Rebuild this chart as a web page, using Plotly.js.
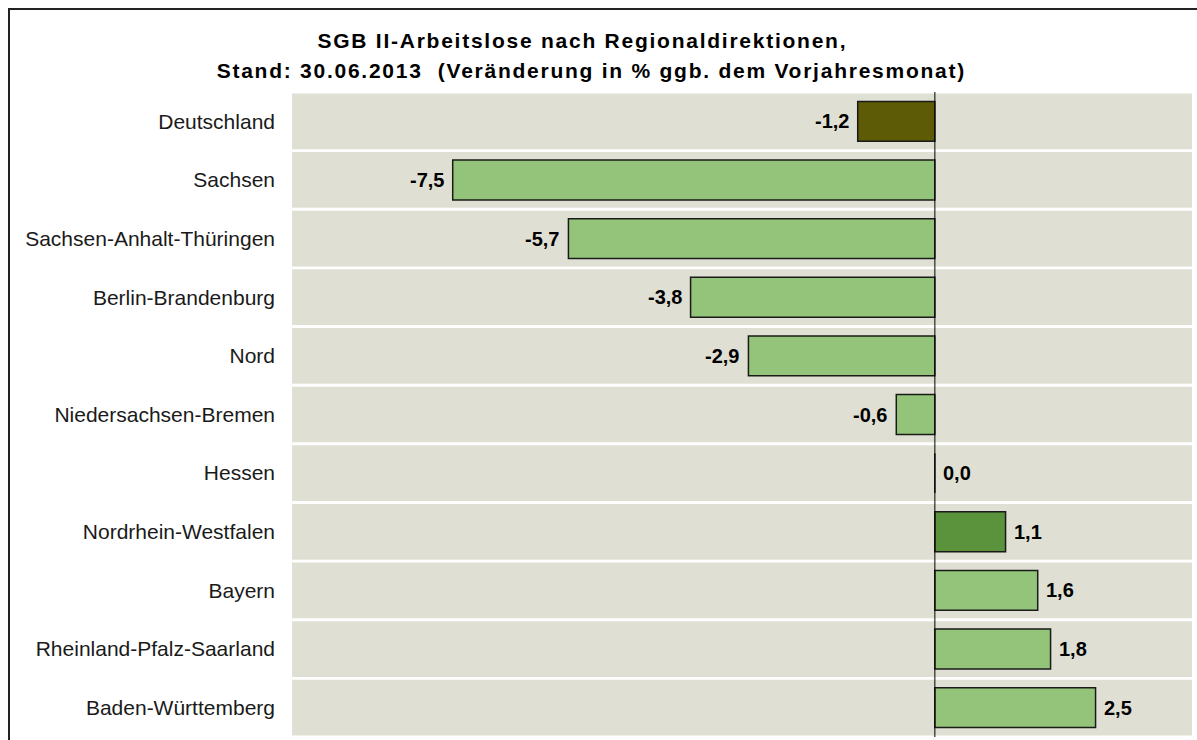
<!DOCTYPE html>
<html>
<head>
<meta charset="utf-8">
<script src="https://cdn.plot.ly/plotly-3.0.1.min.js"></script>
<style>
  html, body { margin: 0; padding: 0; background: #fff; }
  #chart { width: 1197px; height: 740px; }
  #frame { position: absolute; left: 8px; top: 8px; width: 1300px; height: 800px;
           border-left: 2px solid #222; border-top: 2px solid #222; pointer-events: none; }
  g.annotation[data-index="0"] text, g.annotation[data-index="1"] text { letter-spacing: 1.75px; }
</style>
</head>
<body>
<div id="chart"></div>
<div id="frame"></div>
<script>
const categories = [
  "Deutschland", "Sachsen", "Sachsen-Anhalt-Thüringen", "Berlin-Brandenburg", "Nord",
  "Niedersachsen-Bremen", "Hessen", "Nordrhein-Westfalen", "Bayern",
  "Rheinland-Pfalz-Saarland", "Baden-Württemberg"
];
const values = [-1.2, -7.5, -5.7, -3.8, -2.9, -0.6, 0.0, 1.1, 1.6, 1.8, 2.5];
const barColors = [
  "#5E5B06", "#93C47A", "#93C47A", "#93C47A", "#93C47A",
  "#93C47A", "#93C47A", "#5B923C", "#93C47A", "#93C47A", "#93C47A"
];
const xRange = [-10, 4];
const titleLines = [
  "SGB II-Arbeitslose nach Regionaldirektionen,",
  "Stand: 30.06.2013  (Veränderung in % ggb. dem Vorjahresmonat)"
];

const FONT = 'Liberation Sans, Arial, sans-serif';
const fmt = v => v.toFixed(1).replace('.', ',');

const bandTrace = {
  type: 'bar', orientation: 'h',
  y: categories,
  x: categories.map(() => xRange[1] - xRange[0]),
  base: categories.map(() => xRange[0]),
  width: 0.95,
  marker: { color: '#DFE0D3', line: { width: 0 } },
  hoverinfo: 'skip', showlegend: false
};

const barTrace = {
  type: 'bar', orientation: 'h',
  y: categories,
  x: values,
  width: 0.68,
  marker: { color: barColors, line: { color: '#1a1a1a', width: 1.5 } },
  hoverinfo: 'skip', showlegend: false
};

const titleAnnotations = [
  { text: '<b>' + titleLines[0] + '</b>', x: 0.3233, y: 1.0806 },
  { text: '<b>' + titleLines[1] + '</b>', x: 0.3328, y: 1.034 }
].map(a => Object.assign({
  xref: 'paper', yref: 'paper', xanchor: 'center', yanchor: 'middle',
  showarrow: false, font: { family: FONT, size: 21, color: '#000' }
}, a));

const valueAnnotations = values.map((v, i) => ({
  x: v, y: categories[i], xref: 'x', yref: 'y',
  text: '<b>' + fmt(v) + '</b>',
  showarrow: false,
  xanchor: v < 0 ? 'right' : 'left',
  xshift: v < 0 ? -7 : 6,
  font: { family: FONT, size: 20, color: '#000' }
}));

const layout = {
  width: 1197, height: 740,
  margin: { l: 292, r: 5, t: 92, b: 3 },
  paper_bgcolor: 'rgba(0,0,0,0)', plot_bgcolor: 'rgba(0,0,0,0)',
  barmode: 'overlay',
  xaxis: {
    range: xRange, showgrid: false, showticklabels: false, ticks: '',
    zeroline: false, fixedrange: true
  },
  yaxis: {
    type: 'category', categoryorder: 'array', categoryarray: categories,
    autorange: 'reversed', showgrid: false, zeroline: false, ticks: '',
    ticklabelstandoff: 16,
    tickfont: { family: FONT, size: 21, color: '#1a1a1a', weight: 'normal' },
    fixedrange: true
  },
  shapes: [{
    type: 'line', xref: 'x', yref: 'paper', x0: 0, x1: 0, y0: 0, y1: 1,
    line: { color: '#000', width: 1 }, layer: 'above'
  }],
  annotations: titleAnnotations.concat(valueAnnotations)
};

Plotly.newPlot('chart', [bandTrace, barTrace], layout, { displayModeBar: false, staticPlot: true });
</script>
</body>
</html>
